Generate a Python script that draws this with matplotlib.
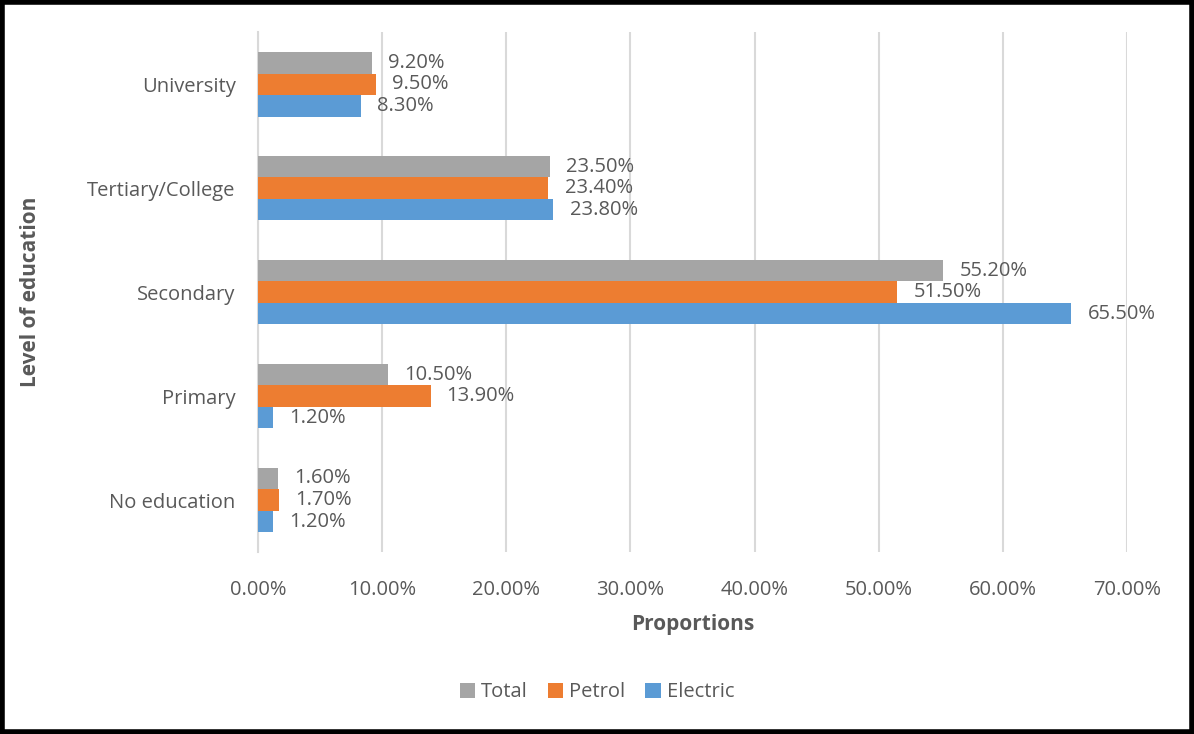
import numpy as np
import matplotlib
matplotlib.use('Agg')
import matplotlib.pyplot as plt
from matplotlib.patches import Rectangle

plt.rcParams['font.family'] = ['Open Sans', 'DejaVu Sans']

categories = ['No education', 'Primary', 'Secondary', 'Tertiary/College', 'University']
total = [1.6, 10.5, 55.2, 23.5, 9.2]
petrol = [1.7, 13.9, 51.5, 23.4, 9.5]
electric = [1.2, 1.2, 65.5, 23.8, 8.3]
xticks = [0, 10, 20, 30, 40, 50, 60, 70]

c_total = '#A5A5A5'
c_petrol = '#ED7D31'
c_elec = '#5B9BD5'
txt = '#595959'

fig = plt.figure(figsize=(11.94, 7.34), dpi=100)
ax = fig.add_axes([0.216, 0.248, 0.728, 0.708])

y = np.arange(len(categories))
h = 0.207
bars = []
for vals, off, col, lab in [(total, h, c_total, 'Total'),
                            (petrol, 0, c_petrol, 'Petrol'),
                            (electric, -h, c_elec, 'Electric')]:
    b = ax.barh(y + off, vals, height=h, color=col, label=lab, zorder=3)
    bars.append(b)
    for yy, v in zip(y + off, vals):
        ax.text(v + 1.3, yy, '%.2f%%' % v, va='center', ha='left',
                fontsize=14.5, color=txt)

ax.set_xlim(0, 70)
ax.set_ylim(-0.5, len(categories) - 0.5)
ax.set_yticks(y)
ax.set_yticklabels(categories, fontsize=14.5, color=txt)
ax.set_xticks(xticks)
ax.set_xticklabels(['%.2f%%' % t for t in xticks], fontsize=14.5, color=txt)
ax.tick_params(length=0)
ax.tick_params(axis='x', pad=20)
ax.tick_params(axis='y', pad=16)
ax.grid(axis='x', color='#D9D9D9', linewidth=1.5, zorder=0)
for s in ['top', 'right', 'bottom']:
    ax.spines[s].set_visible(False)
ax.spines['left'].set_color('#D9D9D9')
ax.spines['left'].set_linewidth(1.5)

ax.set_xlabel('Proportions', fontsize=15, fontweight='bold', color=txt, labelpad=10)
ax.set_ylabel('Level of education', fontsize=15, fontweight='bold', color=txt, labelpad=33)

fig.legend(handles=bars, labels=['Total', 'Petrol', 'Electric'], loc='center',
           bbox_to_anchor=(0.5, 0.057), ncol=3, frameon=False, fontsize=14.5,
           labelcolor=txt, handlelength=0.75, handleheight=0.75, handletextpad=0.3,
           columnspacing=1.0)

fig.patches.append(Rectangle((0.002, 0.003), 0.996, 0.994, transform=fig.transFigure,
                             fill=False, edgecolor='black', linewidth=4))

fig.savefig('out.png', dpi=100)
